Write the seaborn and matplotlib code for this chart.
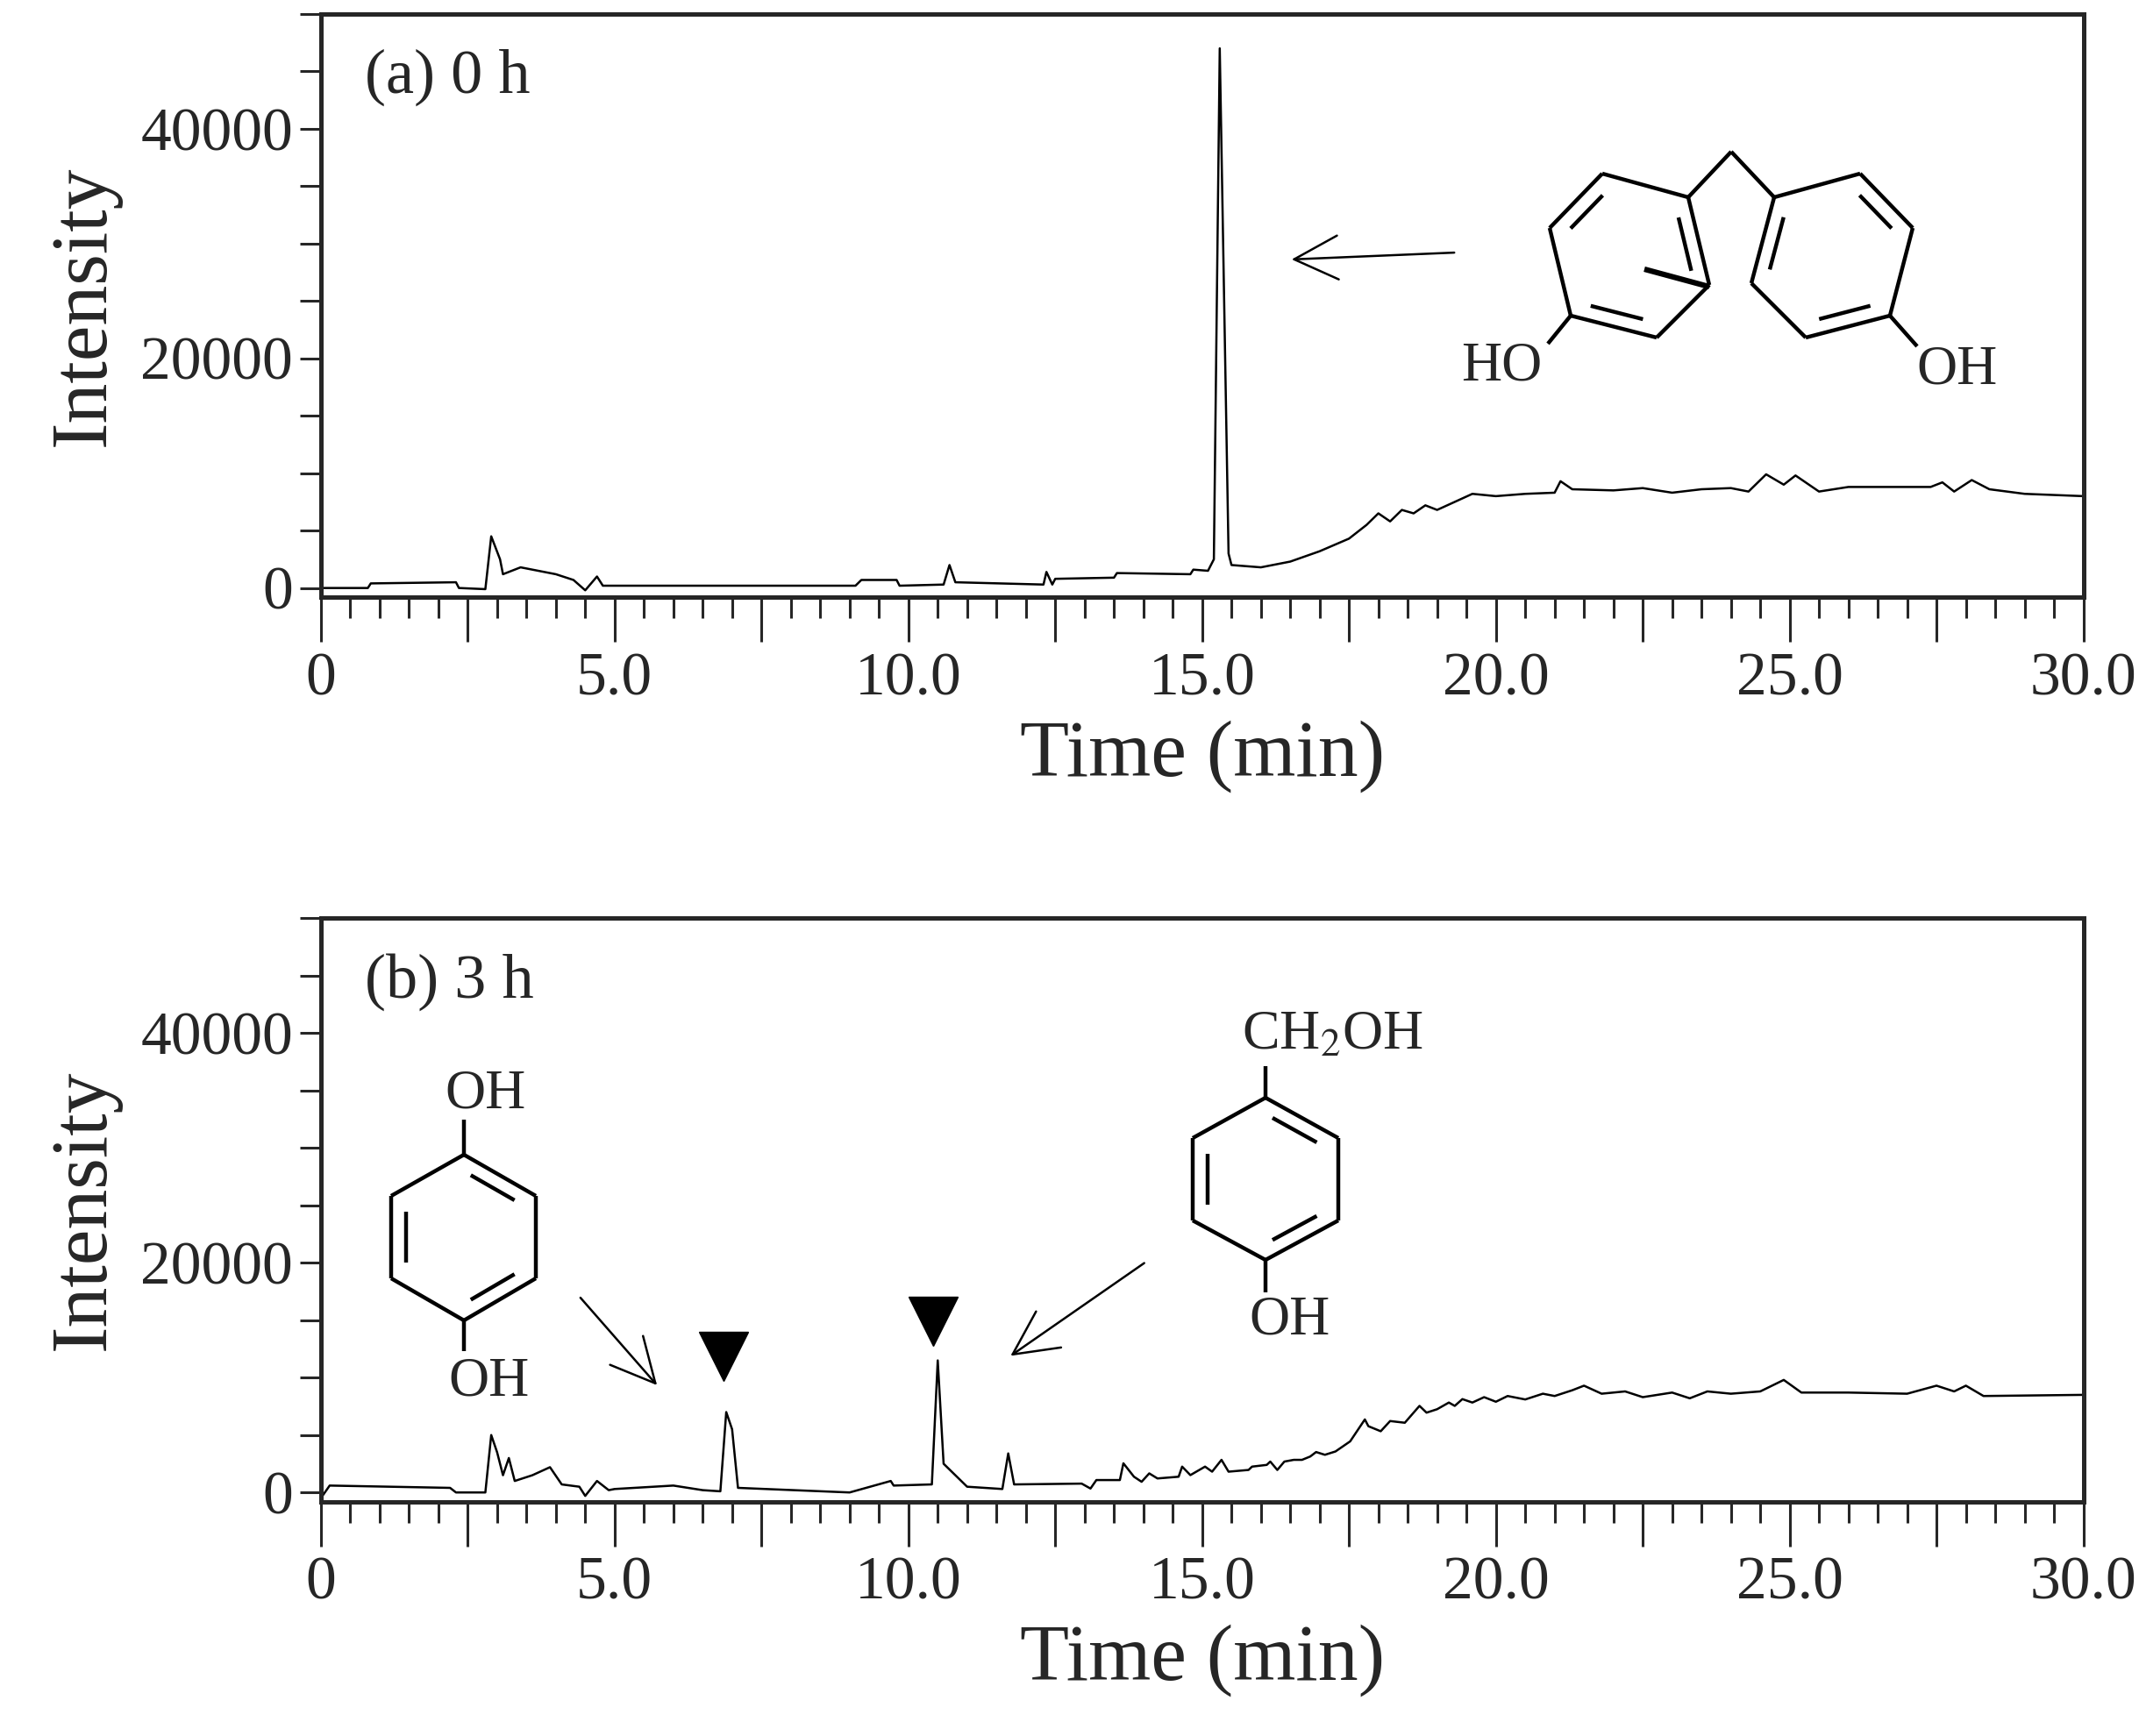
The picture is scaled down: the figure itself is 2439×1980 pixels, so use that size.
import numpy as np
import pandas as pd
import matplotlib
matplotlib.use('Agg')
import matplotlib.pyplot as plt
import seaborn as sns
from matplotlib.lines import Line2D
from matplotlib.patches import FancyArrowPatch
from matplotlib.ticker import MultipleLocator, FuncFormatter

# chromatogram at 0 h
time_a = [0, 0.8, 0.85, 2.3, 2.35, 2.8, 2.9, 3.05, 3.1, 3.4, 4.0, 4.3, 4.5, 4.7, 4.8,
          9.1, 9.2, 9.8, 9.85, 10.6, 10.7, 10.8, 12.3, 12.35, 12.45, 12.5, 13.5, 13.55,
          14.8, 14.85, 15.1, 15.2, 15.3, 15.45, 15.5, 16.0, 16.5, 17.0, 17.5, 17.8, 18.0,
          18.2, 18.4, 18.6, 18.8, 19.0, 19.3, 19.6, 20.0, 20.5, 21.0, 21.1, 21.3, 22.0,
          22.5, 23.0, 23.5, 24.0, 24.3, 24.6, 24.9, 25.1, 25.5, 26.0, 27.4, 27.6, 27.8,
          28.1, 28.4, 29.0, 29.5, 30.0]
int_a = [0, 0, 400, 500, 0, -100, 4500, 2500, 1200, 1800, 1200, 700, -200, 1000, 200,
         200, 700, 700, 200, 300, 2000, 500, 300, 1400, 300, 800, 900, 1300,
         1200, 1600, 1500, 2500, 47000, 3000, 2000, 1800, 2300, 3200, 4300, 5500, 6500,
         5800, 6800, 6500, 7200, 6800, 7500, 8200, 8000, 8200, 8300, 9300, 8600, 8500,
         8700, 8300, 8600, 8700, 8400, 9900, 9000, 9800, 8400, 8800, 8800, 9200, 8400,
         9400, 8600, 8200, 8100, 8000]

# chromatogram at 3 h
time_b = [0, 0.15, 2.2, 2.3, 2.8, 2.9, 3.0, 3.1, 3.2, 3.3, 3.6, 3.9, 4.1, 4.4, 4.5, 4.7,
          4.9, 5.0, 6.0, 6.5, 6.8, 6.9, 7.0, 7.1, 9.0, 9.7, 9.75, 10.4, 10.5, 10.6, 10.8,
          11.0, 11.6, 11.7, 11.8, 12.95, 13.1, 13.2, 13.6, 13.66, 13.84, 13.97, 14.1, 14.24,
          14.6, 14.66, 14.8, 15.05, 15.17, 15.33, 15.45, 15.79, 15.85, 16.1, 16.16, 16.28,
          16.4, 16.56, 16.7, 16.84, 16.94, 17.09, 17.27, 17.52, 17.77, 17.83, 18.04, 18.2,
          18.45, 18.7, 18.82, 19.0, 19.2, 19.3, 19.43, 19.6, 19.8, 20.0, 20.2, 20.5, 20.8,
          21.0, 21.3, 21.5, 21.8, 22.2, 22.5, 23.0, 23.3, 23.6, 24.0, 24.5, 24.9, 25.2,
          26.0, 27.0, 27.5, 27.8, 28.0, 28.3, 30.0]
int_b = [-500, 600, 400, 0, 0, 5000, 3500, 1500, 3000, 1000, 1500, 2200, 700, 500, -300, 1000,
         200, 300, 600, 200, 100, 7000, 5500, 400, 0, 1000, 600, 700, 11500, 2500, 1500,
         500, 300, 3400, 700, 770, 340, 1080, 1080, 2540, 1370, 930, 1660, 1220,
         1370, 2250, 1510, 2250, 1810, 2840, 1810, 1960, 2250, 2400, 2690, 1960,
         2690, 2840, 2840, 3130, 3520, 3280, 3570, 4450, 6360, 5770, 5330, 6220,
         6070, 7540, 6950, 7250, 7830, 7540, 8130, 7830, 8300, 7900, 8400, 8100, 8600,
         8400, 8900, 9300, 8600, 8800, 8300, 8700, 8200, 8800, 8600, 8800, 9800, 8700,
         8700, 8600, 9300, 8800, 9300, 8400, 8500]

# marked peaks in (b)
mark_t = [6.85, 10.42]
mark_y = [11850, 14920]

panel_labels = ['(a) 0 h', '(b) 3 h']

sns.set_style('ticks')
plt.rcParams['font.family'] = ['Liberation Serif', 'DejaVu Serif']
plt.rcParams['mathtext.fontset'] = 'stix'

W, H = 2439, 1980
fig = plt.figure(figsize=(W / 100, H / 100), dpi=100)
ax_a = fig.add_axes([0.150, 0.656, 0.824, 0.336])
ax_b = fig.add_axes([0.150, 0.135, 0.824, 0.336])


def xtick_fmt(v, pos):
    if abs(v) < 1e-9:
        return '0'
    if abs(v % 5) < 1e-6:
        return f'{v:.1f}'
    return ''


def ytick_fmt(v, pos):
    if abs(v % 20000) < 1e-6:
        return f'{int(v)}'
    return ''


for ax, t, y, lab in [(ax_a, time_a, int_a, panel_labels[0]),
                      (ax_b, time_b, int_b, panel_labels[1])]:
    df = pd.DataFrame({'t': t, 'y': y})
    sns.lineplot(data=df, x='t', y='y', ax=ax, sort=False, estimator=None,
                 color='black', linewidth=1.8)
    ax.set_xlim(0, 30)
    ax.set_ylim(-800, 50000)
    for s in ax.spines.values():
        s.set_linewidth(3.6)
        s.set_visible(True)
    ax.xaxis.set_major_locator(MultipleLocator(2.5))
    ax.xaxis.set_minor_locator(MultipleLocator(0.5))
    ax.xaxis.set_major_formatter(FuncFormatter(xtick_fmt))
    ax.yaxis.set_major_locator(MultipleLocator(5000))
    ax.yaxis.set_major_formatter(FuncFormatter(ytick_fmt))
    ax.tick_params(axis='x', which='major', length=37, width=2.2, labelsize=50, pad=8)
    ax.tick_params(axis='x', which='minor', length=17, width=2.2)
    ax.tick_params(axis='y', which='major', length=17, width=2.2, labelsize=50, pad=6)
    ax.set_xlabel('Time (min)', fontsize=66, labelpad=10)
    ax.set_ylabel('Intensity', fontsize=66, labelpad=16)
    ax.text(0.025, 0.94, lab, transform=ax.transAxes, fontsize=52, va='top', ha='left')

ax_b.plot(mark_t, mark_y, linestyle='none', marker='v', markersize=40, color='black')


def fp(x, y):
    return (x / W, 1 - y / H)


def seg(p, q, lw=3.2):
    (x0, y0), (x1, y1) = fp(*p), fp(*q)
    fig.add_artist(Line2D([x0, x1], [y0, y1], transform=fig.transFigure,
                          color='black', linewidth=lw, solid_capstyle='butt'))


def ring(verts, doubles):
    n = len(verts)
    c = np.array([sum(v[0] for v in verts) / n, sum(v[1] for v in verts) / n])
    for i in range(n):
        seg(verts[i], verts[(i + 1) % n])
    for i in doubles:
        p, q = np.array(verts[i], float), np.array(verts[(i + 1) % n], float)
        p2 = p + (c - p) * 0.2
        q2 = q + (c - q) * 0.2
        d = q2 - p2
        seg(p2 + d * 0.12, q2 - d * 0.12)


def label(x, y, s, size=46):
    fx, fy = fp(x, y)
    fig.text(fx, fy, s, fontsize=size, ha='center', va='center')


def arrow(a, b):
    fig.add_artist(FancyArrowPatch(fp(*a), fp(*b), transform=fig.transFigure,
                                   arrowstyle='->,head_length=0.9,head_width=0.45',
                                   mutation_scale=40, color='black', linewidth=1.8))


# bisphenol F in (a)
r1 = [(1827, 198), (1925, 225), (1949, 325), (1889, 385), (1791, 360), (1767, 260)]
r2 = [(2121, 198), (2181, 260), (2155, 360), (2059, 385), (1997, 323), (2023, 225)]
ring(r1, [5, 1, 3])
ring(r2, [0, 4, 2])
seg((1925, 225), (1974, 173))
seg((1974, 173), (2023, 225))
seg((1791, 360), (1765, 392))
seg((2155, 360), (2186, 395))
seg((1875, 307), (1949, 327), lw=4.5)
label(1712, 418, 'HO')
label(2231, 422, 'OH')
arrow((1661, 288), (1470, 296))

# hydroquinone in (b)
h1 = [(529, 1317), (611, 1364), (611, 1458), (529, 1506), (446, 1458), (446, 1364)]
ring(h1, [0, 2, 4])
seg((529, 1317), (529, 1277))
seg((529, 1506), (529, 1541))
label(554, 1249, 'OH')
label(558, 1576, 'OH')

# 4-hydroxybenzyl alcohol in (b)
h2 = [(1443, 1252), (1526, 1298), (1526, 1392), (1443, 1437), (1360, 1392), (1360, 1298)]
ring(h2, [0, 2, 4])
seg((1443, 1252), (1443, 1216))
seg((1443, 1437), (1443, 1474))
label(1520, 1182, r'CH$_2$OH')
label(1470, 1507, 'OH')

arrow((660, 1478), (751, 1582))
arrow((1307, 1439), (1150, 1548))

fig.savefig('out.png', dpi=100)
